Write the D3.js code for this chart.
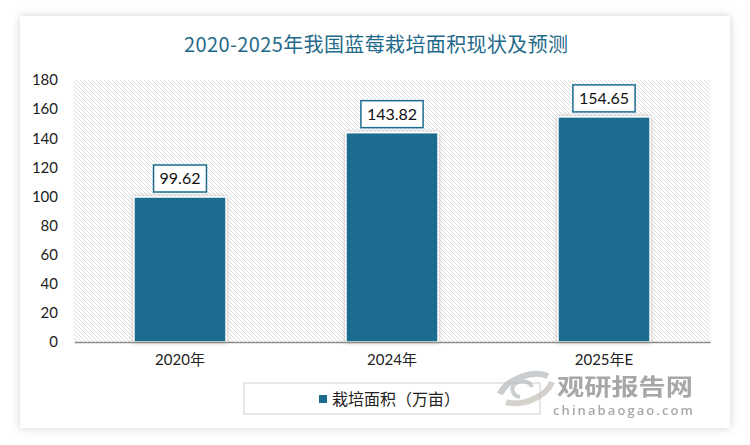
<!DOCTYPE html>
<html><head><meta charset="utf-8">
<script src="https://cdn.jsdelivr.net/npm/d3@7/dist/d3.min.js"></script>
<style>body{margin:0;background:#fff;}svg{display:block;}</style>
</head><body>
<svg id="c" width="750" height="445"></svg>
<script>
const categories = ["2020年", "2024年", "2025年E"];
const values = [99.62, 143.82, 154.65];
const yTicks = [0, 20, 40, 60, 80, 100, 120, 140, 160, 180];
const seriesName = "栽培面积（万亩）";
const title = "2020-2025年我国蓝莓栽培面积现状及预测";

const svg = d3.select("#c");
const defs = svg.append("defs");
const f = defs.append("filter").attr("id","cardShadow").attr("x","-5%").attr("y","-5%").attr("width","110%").attr("height","110%");
f.append("feDropShadow").attr("dx",0).attr("dy",0).attr("stdDeviation",4).attr("flood-color","#000").attr("flood-opacity",0.18);
const bf = defs.append("filter").attr("id","barShadow").attr("x","-20%").attr("y","-10%").attr("width","140%").attr("height","120%");
bf.append("feDropShadow").attr("dx",0).attr("dy",0).attr("stdDeviation",2).attr("flood-color","#000").attr("flood-opacity",0.25);
const pat = defs.append("pattern").attr("id","hatch").attr("patternUnits","userSpaceOnUse")
  .attr("width",4).attr("height",4);
pat.append("rect").attr("width",4).attr("height",4).attr("fill","#fff");
pat.append("path").attr("d","M-1,-1 L5,5 M-1,3 L1,5 M3,-1 L5,1").attr("stroke","#dcdcdc").attr("stroke-width",1);

// card
svg.append("rect").attr("x",20).attr("y",16).attr("width",710).attr("height",412)
  .attr("fill","#fff").attr("filter","url(#cardShadow)");

svg.append("text").attr("x",376).attr("y",52).attr("text-anchor","middle")
  .attr("font-family","'Noto Sans CJK SC', sans-serif").attr("font-size",20)
  .attr("fill","#1f6a8a").attr("textLength",384).text(title);

const m = {l:74, r:710, t:80, b:342};
const x = d3.scaleBand().domain(categories).range([m.l, m.r]).paddingInner(0.566).paddingOuter(0.283);
const y = d3.scaleLinear().domain([0,180]).range([m.b, m.t]);

svg.append("rect").attr("x",m.l).attr("y",m.t).attr("width",m.r-m.l).attr("height",m.b-m.t).attr("fill","url(#hatch)");

const font = "Lato, 'Noto Sans CJK SC', sans-serif";
const yAxis = svg.append("g").attr("transform",`translate(${m.l},0)`)
  .call(d3.axisLeft(y).tickValues(yTicks).tickSize(0).tickPadding(16));
yAxis.select(".domain").remove();
yAxis.selectAll("text").attr("font-family",font).attr("font-size",15).attr("fill","#222");

const color = "#1b6c8f";
svg.append("g").selectAll("rect").data(values).join("rect")
  .attr("x",(d,i)=>x(categories[i])).attr("y",d=>y(d))
  .attr("width",x.bandwidth()).attr("height",d=>y(0)-y(d))
  .attr("fill",color).attr("stroke","#fff").attr("stroke-width",1.5).attr("filter","url(#barShadow)");

const xAxis = svg.append("g").attr("transform",`translate(0,${m.b})`)
  .call(d3.axisBottom(x).tickSize(0).tickPadding(12));
xAxis.select(".domain").attr("stroke","#8c8c8c").attr("stroke-width",1.5);
xAxis.selectAll("text").attr("font-family",font).attr("font-size",15).attr("fill","#222");

// labels
const lg = svg.append("g").selectAll("g").data(values).join("g");
lg.each(function(d,i){
  const g = d3.select(this);
  const cx = x(categories[i]) + x.bandwidth()/2;
  const t = g.append("text").attr("x",cx).attr("y",y(d)-13).attr("text-anchor","middle")
    .attr("font-family",font).attr("font-size",16).attr("fill","#111").text(d.toFixed(2));
  const w = t.node().getComputedTextLength() + 12;
  g.insert("rect","text").attr("x",cx-w/2).attr("y",y(d)-32).attr("width",w).attr("height",27)
    .attr("fill","#fff").attr("stroke",color).attr("stroke-width",1.5);
});

// legend
svg.append("rect").attr("x",244).attr("y",383).attr("width",296).attr("height",31)
  .attr("fill","#fff").attr("stroke","#cfcfcf");
svg.append("rect").attr("x",319).attr("y",395).attr("width",8).attr("height",8).attr("fill",color);
svg.append("text").attr("x",332).attr("y",405).attr("font-family","'Noto Sans CJK SC', sans-serif")
  .attr("font-size",16).attr("fill","#222").text(seriesName);

// watermark
const wm = svg.append("g").attr("opacity",0.75);
wm.append("path").attr("d","M548,376 A30,18 -20 0 0 500,394").attr("fill","none").attr("stroke","#b9bdbf").attr("stroke-width",6);
wm.append("path").attr("d","M506,402 A30,18 -20 0 0 552,382").attr("fill","none").attr("stroke","#c8c4bc").attr("stroke-width",6);
wm.append("path").attr("d","M520,397 A10,8 0 1 1 532,387").attr("fill","none").attr("stroke","#b9bdbf").attr("stroke-width",4);
wm.append("text").attr("x",557).attr("y",395).attr("font-family","'Noto Sans CJK SC', sans-serif").attr("font-weight",700)
  .attr("font-size",23).attr("fill","#8a8a8a").attr("textLength",136).attr("lengthAdjust","spacingAndGlyphs").text("观研报告网");
wm.append("text").attr("x",553).attr("y",415).attr("font-family","'Open Sans', sans-serif").attr("font-weight",600)
  .attr("font-size",13).attr("fill","#8a8a8a").attr("textLength",140).text("chinabaogao.com");
</script>
</body></html>
